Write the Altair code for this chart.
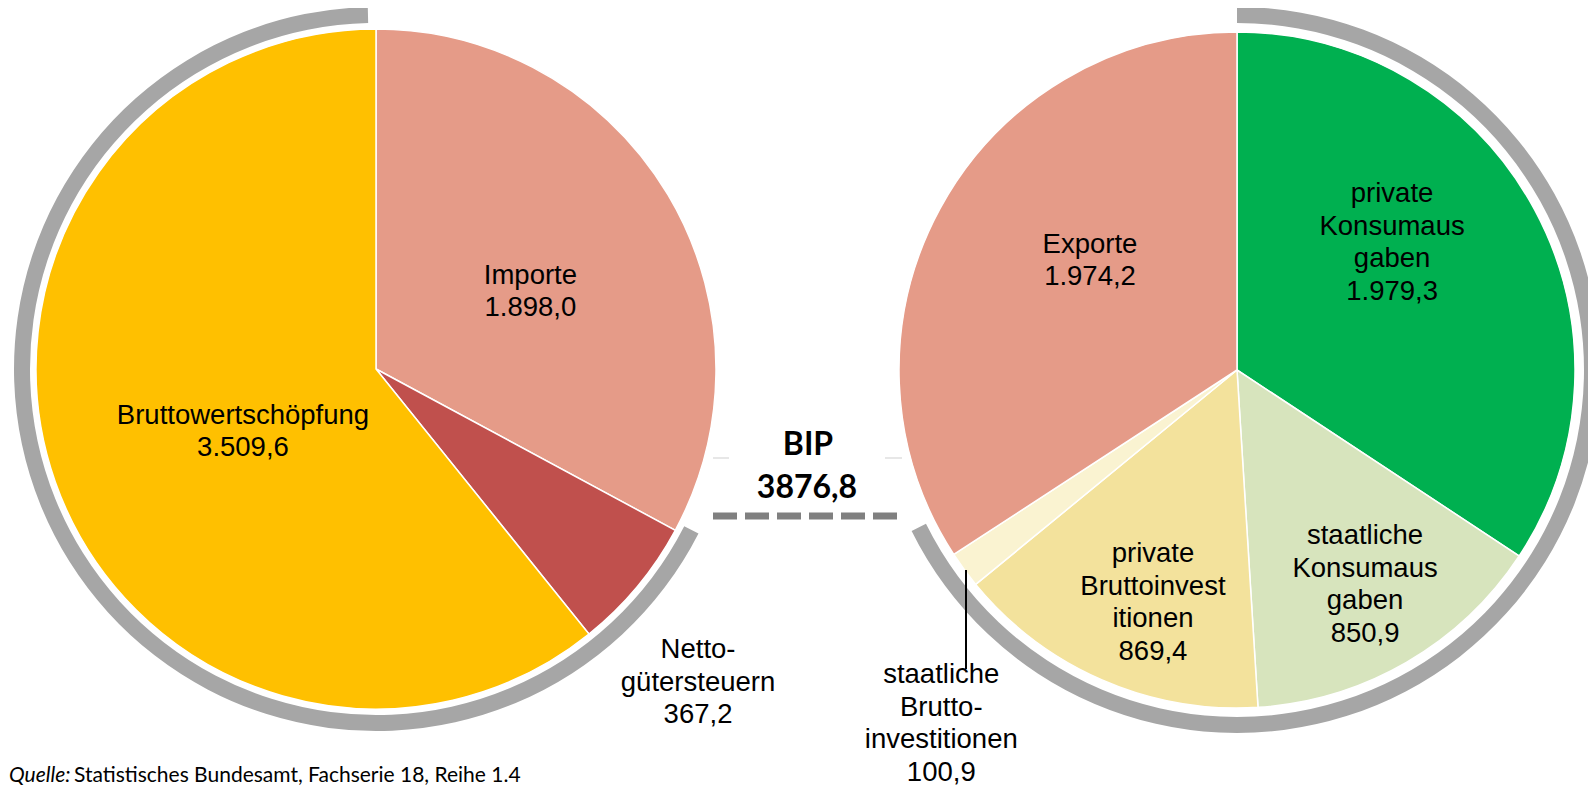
import math
import altair as alt
import pandas as pd

# ---------------- data ----------------
left_cats = ["Importe", "Nettogütersteuern", "Bruttowertschöpfung"]
left_vals = [1898.0, 367.2, 3509.6]
left_labels = [["Importe", "1.898,0"], ["Netto-", "gütersteuern", "367,2"],
               ["Bruttowertschöpfung", "3.509,6"]]

right_cats = ["private Konsumausgaben", "staatliche Konsumausgaben",
              "private Bruttoinvestitionen", "staatliche Bruttoinvestitionen", "Exporte"]
right_vals = [1979.3, 850.9, 869.4, 100.9, 1974.2]
right_labels = [["private", "Konsumaus", "gaben", "1.979,3"],
                ["staatliche", "Konsumaus", "gaben", "850,9"],
                ["private", "Bruttoinvest", "itionen", "869,4"],
                ["staatliche", "Brutto-", "investitionen", "100,9"],
                ["Exporte", "1.974,2"]]

bip_value = 3876.8
bip_title = "BIP"
bip_text = "3876,8"
source_prefix = "Quelle:"
source_text = "Statistisches Bundesamt, Fachserie 18, Reihe 1.4"

# ---------------- styles / layout ----------------
left_colors = ["#E59B88", "#C0504D", "#FFC000"]
right_colors = ["#00B050", "#D7E4BD", "#F3E29C", "#FAF3D1", "#E59B88"]
# label placement: angular nudge (deg) from slice middle, and radius (px) of block centre
left_nudge = [4.3, 4.5, -5.95]
left_rad = [172.6, 449.7, 147.2]
right_nudge = [-11.0, -0.7, -3.7, -13.9, 8.1]
right_rad = [200.4, 250.2, 247.7, 461.2, 183.0]

LCX, LCY, LR = 368, 361, 340
RCX, RCY, RR = 1229, 362, 338
RING_GRAY = "#A6A6A6"
FONT = "Liberation Sans"
FS = 27.5
LH = 32.5


def pie_frames(cats, vals, labels, colors, nudge, rad):
    total = sum(vals)
    rows, lines, acc = [], [], 0.0
    for c, v, lab, col, n, r in zip(cats, vals, labels, colors, nudge, rad):
        start, end = acc, acc + v
        mid = (start + end) / 2
        rows.append(dict(cat=c, value=v, start=start, end=end, color=col))
        # block centre in polar coordinates, then one row per text line
        ang = math.radians(mid / total * 360.0 + n)
        bx, by = r * math.sin(ang), -r * math.cos(ang)
        k = len(lab)
        for i, t in enumerate(lab):
            ly = by + (i - (k - 1) / 2.0) * LH
            th = math.degrees(math.atan2(bx, -ly)) % 360.0
            lines.append(dict(text=t, lab_theta=th / 360.0 * total, lab_r=math.hypot(bx, ly)))
        acc = end
    return pd.DataFrame(rows), pd.DataFrame(lines), total


dfL, linesL, totL = pie_frames(left_cats, left_vals, left_labels, left_colors, left_nudge, left_rad)
dfR, linesR, totR = pie_frames(right_cats, right_vals, right_labels, right_colors, right_nudge, right_rad)


def tscale(total):
    return alt.Scale(domain=[0, total], range=[0, 2 * math.pi])


def pie_layers(df, lines, total, cx, cy, r):
    sc = tscale(total)
    arcs = alt.Chart(df).mark_arc(outerRadius=r, stroke="white", strokeWidth=1.5).encode(
        theta=alt.Theta("start:Q", stack=None, scale=sc),
        theta2="end:Q",
        color=alt.Color("color:N", scale=None),
        x=alt.value(cx), y=alt.value(cy),
    )
    texts = alt.Chart(lines).mark_text(font=FONT, fontSize=FS, align="center",
                                       baseline="middle", color="black").encode(
        theta=alt.Theta("lab_theta:Q", stack=None, scale=sc),
        radius=alt.Radius("lab_r:Q", scale=None),
        text="text:N",
        x=alt.value(cx), y=alt.value(cy),
    )
    return arcs, texts


# gray rings marking the BIP share
gapL = 1.3 * totL / 360.0
ringL = pd.DataFrame({"start": [totL - gapL - bip_value], "end": [totL - gapL]})
ringR = pd.DataFrame({"start": [0.0], "end": [bip_value + 2.0 * totR / 360.0]})

ringL_ch = alt.Chart(ringL).mark_arc(innerRadius=346, outerRadius=362, color=RING_GRAY).encode(
    theta=alt.Theta("start:Q", stack=None, scale=tscale(totL)), theta2="end:Q",
    x=alt.value(LCX), y=alt.value(LCY))
ringR_ch = alt.Chart(ringR).mark_arc(innerRadius=347, outerRadius=363, color=RING_GRAY).encode(
    theta=alt.Theta("start:Q", stack=None, scale=tscale(totR)), theta2="end:Q",
    x=alt.value(RCX), y=alt.value(RCY))

arcsL, textsL = pie_layers(dfL, linesL, totL, LCX, LCY, LR)
arcsR, textsR = pie_layers(dfR, linesR, totR, RCX, RCY, RR)

one = pd.DataFrame({"a": [0]})

leader = alt.Chart(one).mark_rule(color="black", strokeWidth=2).encode(
    x=alt.value(958), y=alt.value(562), y2=alt.value(661))

dash = alt.Chart(one).mark_rule(color="#808080", strokeWidth=7, strokeDash=[24, 8]).encode(
    x=alt.value(705), x2=alt.value(890), y=alt.value(508))
faint1 = alt.Chart(one).mark_rule(color="#CFCFCF", strokeWidth=1).encode(
    x=alt.value(705), x2=alt.value(721), y=alt.value(450))
faint2 = alt.Chart(one).mark_rule(color="#CFCFCF", strokeWidth=1).encode(
    x=alt.value(877), x2=alt.value(894), y=alt.value(450))

bip1 = alt.Chart(one).mark_text(font="Lato", fontWeight="bold", fontSize=32, color="black",
                                align="center", baseline="middle").encode(
    x=alt.value(800), y=alt.value(437), text=alt.value(bip_title))
bip2 = alt.Chart(one).mark_text(font="Lato", fontWeight="bold", fontSize=32, color="black",
                                align="center", baseline="middle").encode(
    x=alt.value(799), y=alt.value(480), text=alt.value(bip_text))

src1 = alt.Chart(one).mark_text(font="Lato", fontStyle="italic", fontSize=21, color="black",
                                align="left", baseline="middle").encode(
    x=alt.value(1), y=alt.value(768), text=alt.value(source_prefix))
src2 = alt.Chart(one).mark_text(font="Lato", fontSize=21, color="black",
                                align="left", baseline="middle").encode(
    x=alt.value(66), y=alt.value(768), text=alt.value(source_text))

chart = alt.layer(
    ringL_ch, ringR_ch, arcsL, arcsR, textsL, textsR, leader, dash, faint1, faint2,
    bip1, bip2, src1, src2
).resolve_scale(theta="independent", radius="independent").properties(
    width=1580, height=779, padding=0,
    autosize=alt.AutoSizeParams(type="none"),
).configure_view(stroke=None)

chart.save("out.html", embed_options={"renderer": "svg", "actions": False})
